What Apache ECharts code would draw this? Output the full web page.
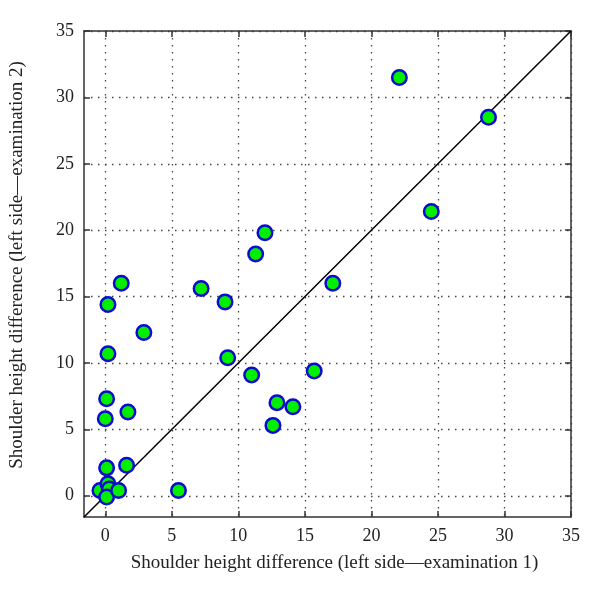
<!DOCTYPE html>
<html>
<head>
<meta charset="utf-8">
<script src="https://cdn.jsdelivr.net/npm/echarts@6/dist/echarts.min.js"></script>
<style>html,body{margin:0;padding:0;background:#fff}#c{width:600px;height:596px}</style>
</head>
<body>
<div id="c"></div>
<script>
var exam1 = [22.1, 28.8, 24.5, 12.0, 11.3, 17.1, 7.2, 9.0, 9.2, 11.0, 15.7, 12.9, 14.1, 12.6, 1.2, 0.2, 2.9, 0.2, 0.1, 0.0, 1.7, 0.1, 1.6, -0.4, 0.2, 0.3, 0.1, 1.0, 5.5];
var exam2 = [31.5, 28.5, 21.4, 19.8, 18.2, 16.0, 15.6, 14.6, 10.4, 9.1, 9.4, 7.0, 6.7, 5.3, 16.0, 14.4, 12.3, 10.7, 7.3, 5.8, 6.3, 2.1, 2.3, 0.4, 0.9, 0.5, -0.1, 0.4, 0.4];
var tickValues = [0, 5, 10, 15, 20, 25, 30, 35];
var axisRange = [-1.6, 35];
var xTitle = 'Shoulder height difference (left side\u2014examination 1)';
var yTitle = 'Shoulder height difference (left side\u2014examination 2)';

var pts = exam1.map(function (x, i) { return [x, exam2[i]]; });
var diag = [[axisRange[0], axisRange[0]], [axisRange[1], axisRange[1]]];
var font = '"Liberation Serif", "DejaVu Serif", serif';

function mkAxis(pos, showLabel) {
  return {
    type: 'value', position: pos, min: axisRange[0], max: axisRange[1],
    axisLine: { show: true, onZero: false, lineStyle: { color: '#333', width: 1.5 } },
    axisTick: { show: true, inside: true, length: 6, customValues: tickValues, lineStyle: { color: '#333', width: 1.5 } },
    axisLabel: { show: showLabel, customValues: tickValues, color: '#222', fontFamily: font, fontSize: 18, margin: 10 },
    splitLine: { show: showLabel, lineStyle: { color: '#444', type: [1.5, 5.5], width: 1.3 } }
  };
}
var xa = mkAxis('bottom', true);
xa.name = xTitle; xa.nameLocation = 'middle'; xa.nameGap = 37;
xa.nameTextStyle = { fontFamily: font, fontSize: 19, color: '#222', padding: [0, 0, 0, 14] };
var ya = mkAxis('left', true);
ya.name = yTitle; ya.nameLocation = 'middle'; ya.nameGap = 57;
ya.nameTextStyle = { fontFamily: font, fontSize: 19, color: '#222', padding: [0, 0, 0, 18] };

var chart = echarts.init(document.getElementById('c'), null, { renderer: 'canvas' });
chart.setOption({
  animation: false,
  grid: { left: 83, top: 31, right: 29, bottom: 79, containLabel: false },
  xAxis: [xa, mkAxis('top', false)],
  yAxis: [ya, mkAxis('right', false)],
  series: [
    { type: 'line', data: diag, xAxisIndex: 0, yAxisIndex: 0, symbol: 'none',
      lineStyle: { color: '#000', width: 1.5 }, silent: true, z: 2 },
    { type: 'scatter', data: pts, xAxisIndex: 0, yAxisIndex: 0, symbol: 'circle', symbolSize: 14.5,
      itemStyle: { color: '#00ee00', borderColor: '#0a0ad0', borderWidth: 2.5, opacity: 1 }, z: 3 }
  ]
});
</script>
</body>
</html>
